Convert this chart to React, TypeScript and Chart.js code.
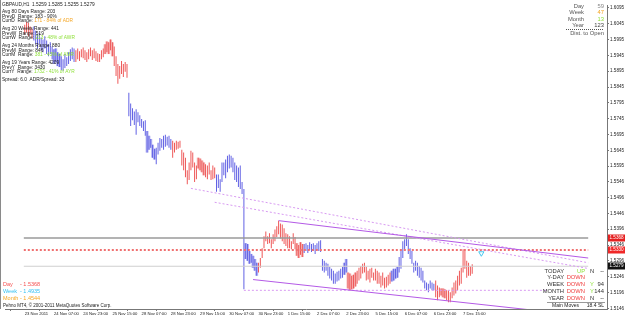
import React, { useEffect, useRef } from 'react';
import { Chart, registerables } from 'chart.js';
Chart.register(...registerables);

const FONT = '"Liberation Sans", Arial, sans-serif';

// ---- x axis (H1 bars) ----
const slotCount = 309;
const xTickBars = [0, 16, 32, 48, 64, 80, 96, 112, 128, 144, 160, 176, 192, 208, 224, 240];
const xTickLabels = ['23 Nov 2011', '24 Nov 07:00', '24 Nov 23:00', '25 Nov 15:00', '28 Nov 07:00', '28 Nov 23:00', '29 Nov 15:00', '30 Nov 07:00', '30 Nov 23:00', '1 Dec 15:00', '2 Dec 07:00', '2 Dec 23:00', '5 Dec 15:00', '6 Dec 07:00', '6 Dec 23:00', '7 Dec 15:00'];

// ---- y axis ----
const yMax = 1.6104;
const yMin = 1.5144;
const yTickValues = [1.6095, 1.6045, 1.5995, 1.5945, 1.5895, 1.5845, 1.5795, 1.5745, 1.5695, 1.5645, 1.5595, 1.5546, 1.5496, 1.5446, 1.5396, 1.5346, 1.5296, 1.5246, 1.5196, 1.5146];

// ---- bar highs / lows ----
const highs = [
  1.6042, 1.6051, 1.6048, 1.6036, 1.6029, 1.6036, 1.6023, 1.6011, 1.6017, 1.6001,
  1.5995, 1.6005, 1.5992, 1.5980, 1.5986, 1.5973, 1.5964, 1.5967, 1.5955, 1.5949,
  1.5942, 1.5933, 1.5949, 1.5939, 1.5955, 1.5964, 1.5970, 1.5967, 1.5961, 1.5967,
  1.5958, 1.5964, 1.5970, 1.5961, 1.5955, 1.5964, 1.5970, 1.5961, 1.5967, 1.5958,
  1.5952, 1.5949, 1.5961, 1.5967, 1.5980, 1.5989, 1.5986, 1.5995, 1.5986, 1.5973,
  1.5942, 1.5918, 1.5911, 1.5927, 1.5918, 1.5924, 1.5918, 1.5827, 1.5793, 1.5778,
  1.5768, 1.5775, 1.5765, 1.5756, 1.5744, 1.5737, 1.5740, 1.5706, 1.5691, 1.5681,
  1.5663, 1.5650, 1.5653, 1.5669, 1.5684, 1.5681, 1.5691, 1.5694, 1.5688, 1.5691,
  1.5681, 1.5675, 1.5669, 1.5675, 1.5672, 1.5675, 1.5647, 1.5638, 1.5622, 1.5582,
  1.5607, 1.5644, 1.5638, 1.5607, 1.5597, 1.5622, 1.5619, 1.5613, 1.5607, 1.5601,
  1.5597, 1.5607, 1.5582, 1.5597, 1.5591, 1.5569, 1.5569, 1.5554, 1.5607, 1.5607,
  1.5616, 1.5628, 1.5632, 1.5628, 1.5622, 1.5607, 1.5597, 1.5591, 1.5597, 1.5545,
  1.5523, 1.5352, 1.5349, 1.5327, 1.5318, 1.5312, 1.5302, 1.5290, 1.5290, 1.5305,
  1.5336, 1.5374, 1.5389, 1.5374, 1.5383, 1.5364, 1.5380, 1.5395, 1.5405, 1.5423,
  1.5414, 1.5411, 1.5399, 1.5383, 1.5380, 1.5374, 1.5358, 1.5383, 1.5371, 1.5352,
  1.5346, 1.5355, 1.5349, 1.5349, 1.5352, 1.5346, 1.5355, 1.5349, 1.5352, 1.5346,
  1.5352, 1.5358, 1.5361, 1.5302, 1.5296, 1.5290, 1.5287, 1.5277, 1.5271, 1.5265,
  1.5256, 1.5262, 1.5265, 1.5271, 1.5277, 1.5290, 1.5302, 1.5259, 1.5256, 1.5249,
  1.5252, 1.5259, 1.5265, 1.5274, 1.5280, 1.5287, 1.5290, 1.5277, 1.5265, 1.5271,
  1.5274, 1.5259, 1.5271, 1.5265, 1.5259, 1.5249, 1.5259, 1.5243, 1.5246, 1.5252,
  1.5259, 1.5265, 1.5271, 1.5271, 1.5277, 1.5308, 1.5333, 1.5358, 1.5364, 1.5380,
  1.5364, 1.5336, 1.5327, 1.5290, 1.5296, 1.5290, 1.5280, 1.5274, 1.5265, 1.5234,
  1.5228, 1.5224, 1.5234, 1.5228, 1.5224, 1.5234, 1.5218, 1.5212, 1.5209, 1.5209,
  1.5206, 1.5203, 1.5203, 1.5197, 1.5212, 1.5228, 1.5234, 1.5249, 1.5265, 1.5274,
  1.5333, 1.5327, 1.5296, 1.5290, 1.5280, 1.5285,
];
const lows = [
  1.6011, 1.6017, 1.6005, 1.6011, 1.5998, 1.5992, 1.5980, 1.5967, 1.5980, 1.5961,
  1.5955, 1.5967, 1.5949, 1.5942, 1.5949, 1.5933, 1.5918, 1.5924, 1.5911, 1.5908,
  1.5899, 1.5896, 1.5905, 1.5911, 1.5918, 1.5927, 1.5933, 1.5924, 1.5924, 1.5933,
  1.5927, 1.5939, 1.5936, 1.5930, 1.5924, 1.5933, 1.5942, 1.5930, 1.5936, 1.5927,
  1.5924, 1.5924, 1.5933, 1.5939, 1.5949, 1.5955, 1.5949, 1.5961, 1.5942, 1.5911,
  1.5880, 1.5855, 1.5871, 1.5886, 1.5877, 1.5893, 1.5874, 1.5753, 1.5722, 1.5740,
  1.5725, 1.5694, 1.5734, 1.5722, 1.5716, 1.5706, 1.5691, 1.5638, 1.5647, 1.5653,
  1.5622, 1.5616, 1.5601, 1.5632, 1.5644, 1.5653, 1.5647, 1.5656, 1.5660, 1.5653,
  1.5647, 1.5622, 1.5638, 1.5647, 1.5650, 1.5653, 1.5597, 1.5582, 1.5560, 1.5538,
  1.5551, 1.5582, 1.5591, 1.5545, 1.5554, 1.5588, 1.5582, 1.5576, 1.5566, 1.5560,
  1.5554, 1.5569, 1.5551, 1.5554, 1.5557, 1.5514, 1.5526, 1.5514, 1.5545, 1.5566,
  1.5557, 1.5576, 1.5588, 1.5591, 1.5576, 1.5551, 1.5545, 1.5529, 1.5523, 1.5507,
  1.5206, 1.5302, 1.5296, 1.5287, 1.5290, 1.5274, 1.5265, 1.5249, 1.5259, 1.5274,
  1.5305, 1.5336, 1.5358, 1.5349, 1.5352, 1.5336, 1.5349, 1.5358, 1.5371, 1.5380,
  1.5367, 1.5358, 1.5349, 1.5343, 1.5336, 1.5336, 1.5333, 1.5349, 1.5333, 1.5312,
  1.5305, 1.5315, 1.5308, 1.5321, 1.5327, 1.5321, 1.5330, 1.5324, 1.5327, 1.5318,
  1.5330, 1.5327, 1.5324, 1.5265, 1.5259, 1.5265, 1.5249, 1.5240, 1.5234, 1.5224,
  1.5224, 1.5231, 1.5234, 1.5240, 1.5243, 1.5252, 1.5259, 1.5209, 1.5203, 1.5206,
  1.5209, 1.5215, 1.5224, 1.5234, 1.5240, 1.5256, 1.5259, 1.5234, 1.5237, 1.5228,
  1.5243, 1.5234, 1.5234, 1.5224, 1.5224, 1.5212, 1.5218, 1.5209, 1.5212, 1.5218,
  1.5224, 1.5231, 1.5234, 1.5240, 1.5243, 1.5259, 1.5271, 1.5305, 1.5327, 1.5343,
  1.5318, 1.5302, 1.5287, 1.5259, 1.5265, 1.5249, 1.5243, 1.5234, 1.5228, 1.5209,
  1.5203, 1.5197, 1.5209, 1.5203, 1.5203, 1.5181, 1.5172, 1.5181, 1.5187, 1.5181,
  1.5178, 1.5172, 1.5165, 1.5165, 1.5178, 1.5187, 1.5193, 1.5203, 1.5218, 1.5224,
  1.5259, 1.5271, 1.5243, 1.5249, 1.5249, 1.5255,
];
// direction colouring runs of the indicator: [kind, count]
const colorRuns: [string, number][] = [
  ['r', 5], ['b', 23], ['r', 29], ['b', 24], ['r', 24], ['b', 23],
  ['r', 25], ['b', 24], ['r', 24], ['b', 24], ['r', 21],
];
const shadedBars = [16, 17, 18, 19, 44, 45, 46, 47, 48, 67, 68, 69, 70, 71, 95, 96, 97, 98,
  121, 122, 123, 124, 125, 126, 127, 149, 150, 151, 152, 175, 176, 177, 178, 179, 180, 181,
  201, 202, 203, 204, 228, 229, 230];

// ---- levels & objects ----
const dayOpen = 1.5368;
const prevLevel = 1.5330;
const bidPrice = 1.5279;
const weekOpen = 1.4935;
const monthOpen = 1.4544;
const monthLow = 1.5203;
const channelUpper = [{ x: 139, y: 1.5423 }, { x: 308.5, y: 1.5305 }];
const channelLower = [{ x: 125, y: 1.5237 }, { x: 290, y: 1.5133 }];
const dottedUpper = [{ x: 91, y: 1.5525 }, { x: 308.5, y: 1.5290 }];
const dottedLower = [{ x: 104, y: 1.5481 }, { x: 308.5, y: 1.5272 }];
const monthLowLine = [{ x: 120, y: monthLow }, { x: 286, y: monthLow }];
const arrowPoint = [{ x: 250, y: 1.5320 }];

const BLUE = '#6262e4';
const RED = '#ee5858';
const LBLUE = '#bcbcf4';
const PINK = '#f6bcbc';
const PURPLE = '#b45ae6';
const LPURPLE = '#d89af2';
const ORANGE = '#f5a623';
const GREEN = '#8fe03a';

const infoLines: { y: number; parts: [string, string][] }[] = [
  { y: 5, parts: [['GBPAUD,H1  1.5259 1.5285 1.5255 1.5279', '#222']] },
  { y: 12, parts: [['Avg 80 Days Range: 203', '#222']] },
  { y: 16.5, parts: [['PrevD  Range: 183 - 90%', '#222']] },
  { y: 21, parts: [['CurrD  Range: ', '#222'], ['171 - 84% of ADR', ORANGE]] },
  { y: 29, parts: [['Avg 20 Weeks Range: 441', '#222']] },
  { y: 33.5, parts: [['PrevW  Range: 519', '#222']] },
  { y: 38, parts: [['CurrW  Range: ', '#222'], ['213 - 48% of AWR', GREEN]] },
  { y: 46, parts: [['Avg 24 Months Range: 880', '#222']] },
  { y: 50.5, parts: [['PrevM  Range: 846', '#222']] },
  { y: 55, parts: [['CurrM  Range: ', '#222'], ['381 - 43% of AMR', GREEN]] },
  { y: 63, parts: [['Avg 19 Years Range: 4209', '#222']] },
  { y: 67.5, parts: [['PrevY  Range: 3430', '#222']] },
  { y: 72, parts: [['CurrY  Range: ', '#222'], ['1732 - 41% of AYR', GREEN]] },
  { y: 80, parts: [['Spread: 6.0  ADR/Spread: 33', '#222']] },
];
const openLines: [string, number, string][] = [
  ['Day', dayOpen, '#f55050'],
  ['Week', weekOpen, '#35c0f2'],
  ['Month', monthOpen, ORANGE],
];
const distRows: [string, string, string][] = [
  ['Day', '59', '#888'], ['Week', '47', ORANGE], ['Month', '13', GREEN], ['Year', '123', '#444'],
];
const moveRows: [string, string, string, string][] = [
  ['TODAY', 'UP', 'N', '--'], ['Y-DAY', 'DOWN', '', ''], ['WEEK', 'DOWN', 'Y', '94'],
  ['MONTH', 'DOWN', 'Y', '144'], ['YEAR', 'DOWN', 'N', '--'],
];
const priceBoxes: [number, string][] = [[dayOpen, '#e52020'], [prevLevel, '#f02828'], [bidPrice, '#111']];

const overlay = {
  id: 'overlay',
  beforeDraw(chart: any) {
    const c = chart.ctx;
    c.save();
    c.fillStyle = '#fff';
    c.fillRect(0, 0, chart.width, chart.height);
    c.restore();
  },
  afterDraw(chart: any) {
    const c = chart.ctx;
    const ca = chart.chartArea;
    const ys = chart.scales.y;
    c.save();
    c.strokeStyle = '#8a8a8a';
    c.lineWidth = 1;
    c.beginPath(); c.moveTo(0.5, 0); c.lineTo(0.5, ca.bottom); c.stroke();

    c.textBaseline = 'middle';
    c.font = `4.8px ${FONT}`;
    infoLines.forEach((ln) => {
      let x = 2;
      ln.parts.forEach(([t, col]) => {
        c.fillStyle = col; c.textAlign = 'left';
        c.fillText(t, x, ln.y);
        x += c.measureText(t).width;
      });
    });

    c.font = `5.5px ${FONT}`;
    openLines.forEach(([lab, v, col], k) => {
      const y = 284 + k * 7;
      c.fillStyle = col; c.textAlign = 'left';
      c.fillText(lab, 3, y);
      c.fillText('- ' + v.toFixed(4), 20, y);
    });
    c.font = `4.5px ${FONT}`;
    c.fillStyle = '#222';
    c.fillText('Pehno MT4, \u00a9 2001-2011 MetaQuotes Software Corp.', 3, 306);

    // distance to open box
    c.font = `5.8px ${FONT}`;
    distRows.forEach(([lab, v, col], k) => {
      const y = 6.5 + k * 6.2;
      c.textAlign = 'right';
      c.fillStyle = '#555'; c.fillText(lab, 584, y);
      c.fillStyle = col; c.fillText(v, 604, y);
    });
    c.strokeStyle = '#555';
    c.setLineDash([1, 1]);
    c.beginPath(); c.moveTo(566, 29.5); c.lineTo(604, 29.5); c.stroke();
    c.setLineDash([]);
    c.fillStyle = '#555'; c.textAlign = 'right';
    c.fillText('Dist. to Open', 604, 33.5);

    // moves table
    c.font = `5.8px ${FONT}`;
    moveRows.forEach(([lab, st, fl, v], k) => {
      const y = 271 + k * 6.8;
      c.textAlign = 'right';
      c.fillStyle = '#333'; c.fillText(lab, 564, y);
      c.fillStyle = st === 'UP' ? GREEN : '#f04040'; c.fillText(st, 585, y);
      c.textAlign = 'left';
      c.fillStyle = fl === 'Y' ? GREEN : '#333'; c.fillText(fl, 590, y);
      c.textAlign = 'right';
      c.fillStyle = '#333'; c.fillText(v, 604, y);
    });
    c.strokeStyle = '#999';
    c.beginPath(); c.moveTo(547, 302.5); c.lineTo(605, 302.5); c.stroke();
    c.font = `5px ${FONT}`;
    c.fillStyle = '#222'; c.textAlign = 'left';
    c.fillText('Main Moves', 552, 306);
    c.textAlign = 'right';
    c.fillText('18.4 SL', 604, 306);

    // price boxes on the axis
    c.font = `4.6px ${FONT}`;
    priceBoxes.forEach(([v, bg]) => {
      const py = Math.round(ys.getPixelForValue(v));
      c.fillStyle = bg;
      c.fillRect(ca.right + 1, py - 3.5, 17, 7);
      c.fillStyle = '#fff'; c.textAlign = 'left';
      c.fillText(v.toFixed(4), ca.right + 2.5, py);
    });
    c.restore();
  },
};

export default function App() {
  const ref = useRef<HTMLCanvasElement | null>(null);
  useEffect(() => {
    if (!ref.current) return;
    const barColors: string[] = [];
    colorRuns.forEach(([k, n]) => { for (let j = 0; j < n; j++) barColors.push(k === 'r' ? RED : BLUE); });
    const bars = highs.map((h, i) => ({ x: i, y: [lows[i], h] }));
    const shades = shadedBars.map((i) => ({ x: i, y: [lows[i], highs[i]] }));
    const shadeColors = shadedBars.map((i) => (barColors[i] === RED ? PINK : LBLUE));
    const hLine = (v: number) => [{ x: -0.5, y: v }, { x: slotCount - 0.5, y: v }];
    const lineDs = (data: any[], color: string, width: number, dash: number[], order: number) => ({
      type: 'line', data, borderColor: color, borderWidth: width, borderDash: dash,
      pointRadius: 0, fill: false, order,
    });
    const chart = new Chart(ref.current, {
      type: 'bar',
      data: {
        datasets: [
          { type: 'bar', data: shades, backgroundColor: shadeColors, barThickness: 3, inflateAmount: 0, grouped: false, order: 9 } as any,
          { type: 'bar', data: bars, backgroundColor: barColors, barThickness: 1, inflateAmount: 0, grouped: false, order: 8 } as any,
          lineDs(hLine(dayOpen), '#9a9a9a', 1.5, [], 3),
          lineDs(hLine(prevLevel), '#f07070', 2, [2, 2], 3),
          lineDs(hLine(bidPrice), '#cfcfcf', 1, [], 3),
          lineDs(channelUpper, PURPLE, 1, [], 2),
          lineDs(channelLower, PURPLE, 1, [], 2),
          lineDs(dottedUpper, LPURPLE, 1, [2, 2], 2),
          lineDs(dottedLower, LPURPLE, 1, [2, 2], 2),
          lineDs(monthLowLine, LPURPLE, 1, [2, 2], 2),
          { type: 'scatter', data: arrowPoint, pointStyle: 'triangle', rotation: 180, pointRadius: 3,
            borderColor: '#45c8f0', backgroundColor: '#ffffff', borderWidth: 1, order: 1 } as any,
        ] as any,
      },
      options: {
        animation: false,
        responsive: false,
        devicePixelRatio: 1,
        events: [],
        layout: { padding: 0 },
        plugins: { legend: { display: false }, tooltip: { enabled: false } },
        scales: {
          x: {
            type: 'linear', min: -0.5, max: slotCount - 0.5,
            afterBuildTicks: (s: any) => { s.ticks = xTickBars.map((v) => ({ value: v })); },
            afterFit: (s: any) => { s.height = 10; },
            ticks: {
              autoSkip: false, maxRotation: 0, minRotation: 0, align: 'start', padding: 0,
              font: { size: 4.2, family: FONT }, color: '#222',
              callback: (v: any) => { const k = xTickBars.indexOf(Number(v)); return k >= 0 ? xTickLabels[k] : ''; },
            },
            grid: { drawOnChartArea: false, drawTicks: true, tickLength: 2, color: '#777' },
            border: { display: true, color: '#777' },
          },
          y: {
            type: 'linear', position: 'right', min: yMin, max: yMax,
            afterBuildTicks: (s: any) => { s.ticks = yTickValues.map((v) => ({ value: v })); },
            afterFit: (s: any) => { s.width = 18; },
            ticks: { font: { size: 4.6, family: FONT }, color: '#222', padding: 1, callback: (v: any) => Number(v).toFixed(4) },
            grid: { drawOnChartArea: false, drawTicks: true, tickLength: 2, color: '#777' },
            border: { display: true, color: '#777' },
          },
        },
      } as any,
      plugins: [overlay],
    });
    return () => chart.destroy();
  }, []);
  return (
    <div style={{ position: 'fixed', left: 0, top: 0, width: 625, height: 319, background: '#fff' }}>
      <canvas ref={ref} width={625} height={319} style={{ display: 'block', width: 625, height: 319 }} />
    </div>
  );
}
